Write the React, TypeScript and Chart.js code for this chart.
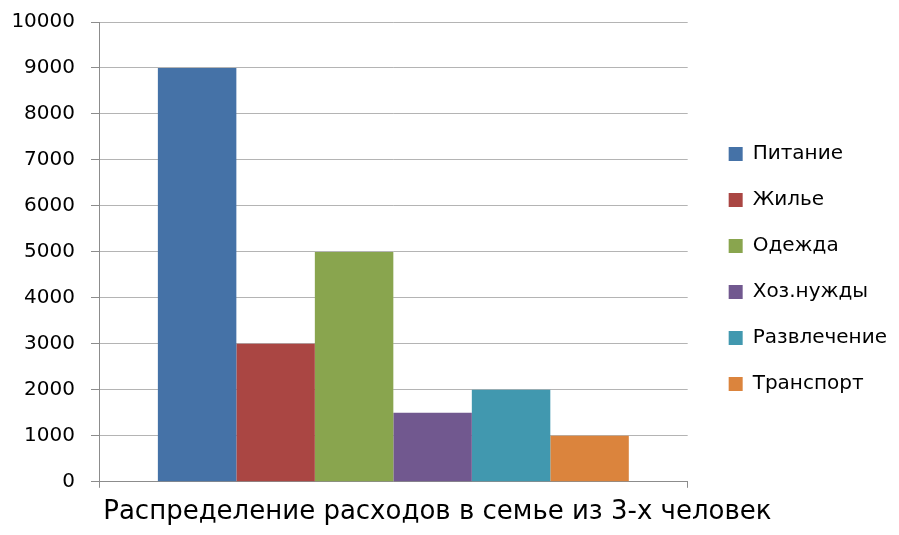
import React, { useEffect, useRef } from "react";
import { Chart, registerables } from "chart.js";

Chart.register(...registerables);

const categories = ["Распределение расходов в семье из 3-х человек"];
const seriesNames = ["Питание", "Жилье", "Одежда", "Хоз.нужды", "Развлечение", "Транспорт"];
const seriesValues = [9000, 3000, 5000, 1500, 2000, 1000];
const seriesColors = ["#4572A7", "#AA4643", "#89A54E", "#71588F", "#4198AF", "#DB843D"];
const yTicks = [0, 1000, 2000, 3000, 4000, 5000, 6000, 7000, 8000, 9000, 10000];

const LEGEND_GAP = 15;

const legendGapPlugin = {
  id: "legendGap",
  beforeLayout(chart: any) {
    const lg = chart.legend;
    if (lg && !lg.__gapPatched) {
      const orig = lg.fit;
      lg.fit = function (this: any) {
        orig.call(this);
        this.width += LEGEND_GAP;
      };
      lg.__gapPatched = true;
    }
  },
  afterLayout(chart: any) {
    const lg = chart.legend;
    if (lg) {
      lg.left += LEGEND_GAP;
    }
  },
};

export default function App() {
  const ref = useRef<HTMLCanvasElement | null>(null);
  useEffect(() => {
    if (!ref.current) return;
    const chart = new Chart(ref.current, {
      type: "bar",
      data: {
        labels: categories,
        datasets: seriesNames.map((name, i) => ({
          label: name,
          data: [seriesValues[i]],
          backgroundColor: seriesColors[i],
          borderWidth: 0,
          categoryPercentage: 0.8,
          barPercentage: 1,
        })),
      },
      options: {
        animation: false,
        responsive: false,
        devicePixelRatio: 1,
        layout: { padding: { top: 1, right: 2, left: 0, bottom: -2 } },
        plugins: {
          tooltip: { enabled: false },
          legend: {
            position: "right",
            align: "center",
            labels: {
              boxWidth: 14,
              boxHeight: 14,
              padding: 26,
              color: "#000",
              font: { family: "DejaVu Sans", size: 20 },
            },
          },
        },
        scales: {
          x: {
            grid: {
              display: true,
              drawOnChartArea: false,
              drawTicks: true,
              tickLength: 6,
              color: "#8c8c8c",
            },
            border: { display: true, color: "#8c8c8c" },
            ticks: {
              color: "#000",
              font: { family: "DejaVu Sans", size: 26 },
              padding: 9,
              labelOffset: 44,
              maxRotation: 0,
              autoSkip: false,
            },
          },
          y: {
            min: 0,
            max: 10000,
            afterBuildTicks: (scale: any) => {
              scale.ticks = yTicks.map((v) => ({ value: v }));
            },
            afterFit: (scale: any) => {
              scale.width = 99;
            },
            grid: {
              color: "#b4b4b4",
              tickLength: 8,
              tickColor: "#8c8c8c",
            },
            border: { display: true, color: "#8c8c8c" },
            ticks: {
              color: "#000",
              font: { family: "DejaVu Sans", size: 20, lineHeight: 0.6 },
              padding: 16,
              callback: (v: any) => String(v),
            },
          },
        },
      },
      plugins: [legendGapPlugin],
    });
    return () => chart.destroy();
  }, []);
  return (
    <div style={{ position: "fixed", left: 0, top: 0, width: 899, height: 535, background: "#fff" }}>
      <canvas ref={ref} width={899} height={535} />
    </div>
  );
}
